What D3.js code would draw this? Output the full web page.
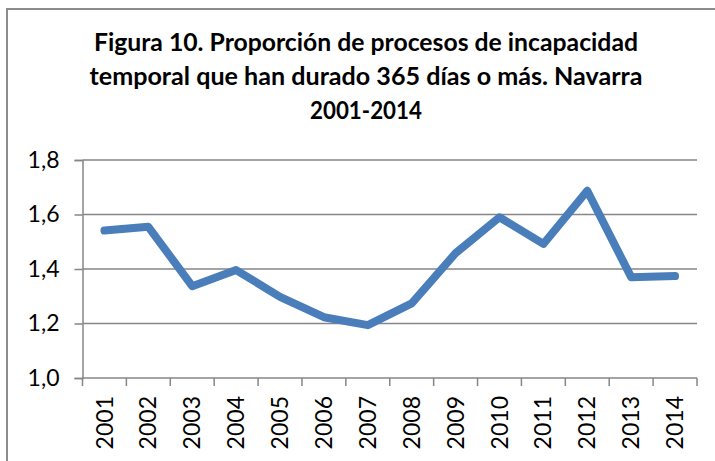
<!DOCTYPE html>
<html>
<head>
<meta charset="utf-8">
<script src="https://cdn.jsdelivr.net/npm/d3@7"></script>
<style>
  body { margin: 0; background: #fff; }
  svg { display: block; }
  text { font-family: Lato, "Open Sans", sans-serif; fill: #000; }
</style>
</head>
<body>
<svg id="chart" width="715" height="461"></svg>
<script>
// data
var years = ["2001","2002","2003","2004","2005","2006","2007","2008","2009","2010","2011","2012","2013","2014"];
var values = [1.541, 1.555, 1.337, 1.396, 1.298, 1.223, 1.194, 1.274, 1.458, 1.590, 1.492, 1.687, 1.370, 1.374];
var yTicks = [1.0, 1.2, 1.4, 1.6, 1.8];
var titleLines = ["Figura 10. Proporción de procesos de incapacidad",
                  "temporal que han durado 365 días o más. Navarra",
                  "2001-2014"];

var svg = d3.select("#chart");
var gridColor = "#868686";

// outer frame of the chart object
svg.append("rect")
    .attr("x", 7).attr("y", 9)
    .attr("width", 740).attr("height", 470)
    .attr("fill", "none")
    .attr("stroke", "#8c8c8c")
    .attr("stroke-width", 2);

// title (widths forced to match the original's narrow bold face)
var titleY = [51, 85, 119];
var titleW = [544, 553, 112];
svg.selectAll(".title")
    .data(titleLines)
    .enter()
    .append("text")
    .attr("class", "title")
    .attr("x", 366)
    .attr("y", function(d, i) { return titleY[i]; })
    .attr("text-anchor", "middle")
    .attr("font-size", 24)
    .attr("font-weight", "bold")
    .attr("textLength", function(d, i) { return titleW[i]; })
    .attr("lengthAdjust", "spacingAndGlyphs")
    .text(function(d) { return d; });

var plotLeft = 82.5, plotRight = 697, plotTop = 160, plotBottom = 378;

var x = d3.scaleBand().domain(years).range([plotLeft, plotRight]);
var y = d3.scaleLinear().domain([1.0, 1.8]).range([plotBottom, plotTop]);

// horizontal gridlines
svg.selectAll(".grid")
    .data(yTicks.slice(1))
    .enter()
    .append("line")
    .attr("class", "grid")
    .attr("x1", plotLeft).attr("x2", plotRight)
    .attr("y1", function(d) { return y(d); })
    .attr("y2", function(d) { return y(d); })
    .attr("stroke", gridColor)
    .attr("stroke-width", 1.5);

// y axis
var yAxis = d3.axisLeft(y)
    .tickValues(yTicks)
    .tickSize(8)
    .tickPadding(15)
    .tickFormat(function(d) { return d3.format(".1f")(d).replace(".", ","); });

var yg = svg.append("g").attr("transform", "translate(" + plotLeft + ",0)").call(yAxis);
yg.select(".domain").attr("stroke", gridColor).attr("stroke-width", 1.5);
yg.selectAll(".tick line").attr("stroke", gridColor).attr("stroke-width", 1.5);
yg.selectAll(".tick text")
    .attr("font-size", 23)
    .attr("font-family", "Lato, 'Open Sans', sans-serif")
    .attr("fill", "#000");

// x axis: ticks at the band edges
var xg = svg.append("g").attr("transform", "translate(0," + plotBottom + ")");
xg.append("line")
    .attr("x1", plotLeft).attr("x2", plotRight)
    .attr("stroke", gridColor).attr("stroke-width", 1.5);
var edges = years.map(function(d) { return x(d); }).concat([plotRight]);
xg.selectAll(".xtick")
    .data(edges)
    .enter()
    .append("line")
    .attr("class", "xtick")
    .attr("x1", function(d) { return d; })
    .attr("x2", function(d) { return d; })
    .attr("y1", 0).attr("y2", 8)
    .attr("stroke", gridColor).attr("stroke-width", 1.5);
xg.selectAll(".xlabel")
    .data(years)
    .enter()
    .append("text")
    .attr("class", "xlabel")
    .attr("transform", function(d) {
        return "translate(" + (x(d) + x.bandwidth() / 2) + ",18) rotate(-90)";
    })
    .attr("text-anchor", "end")
    .attr("dy", "0.35em")
    .attr("font-size", 23)
    .text(function(d) { return d; });

// the series line
var line = d3.line()
    .x(function(d, i) { return x(years[i]) + x.bandwidth() / 2; })
    .y(function(d) { return y(d); });

svg.append("path")
    .datum(values)
    .attr("d", line)
    .attr("fill", "none")
    .attr("stroke", "#4a7ebb")
    .attr("stroke-width", 8)
    .attr("stroke-linejoin", "round")
    .attr("stroke-linecap", "round");
</script>
</body>
</html>
